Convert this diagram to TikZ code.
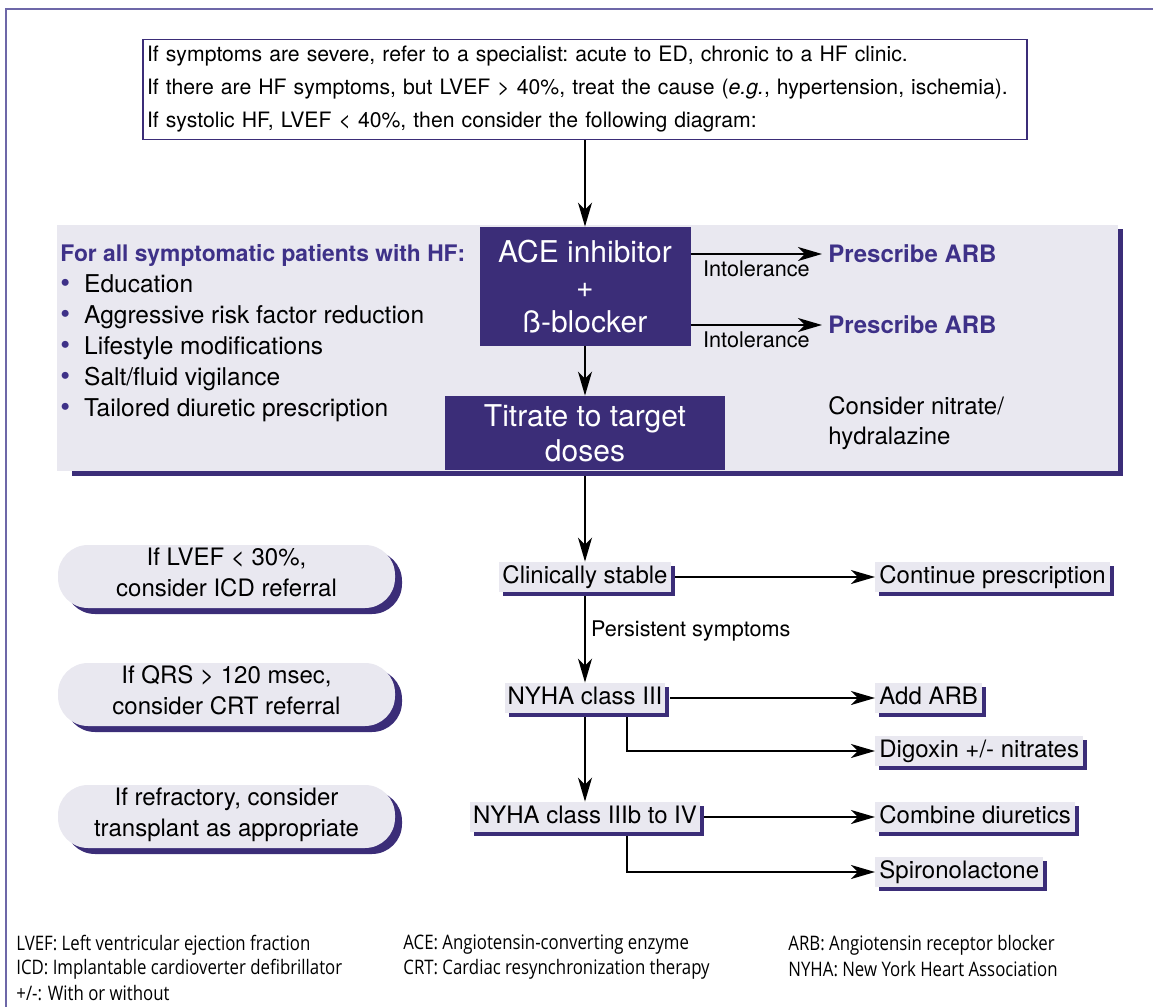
\documentclass[tikz,border=0pt]{standalone}
\usepackage{fontspec}
\setmainfont{TeX Gyre Heros}
\newfontfamily\notefont[FakeStretch=0.84]{Open Sans}
\usepackage{xcolor}
\usetikzlibrary{arrows, arrows.meta, shadows}

\definecolor{hfdark}{HTML}{3B2D78}
\definecolor{hfpurple}{HTML}{3E3188}
\definecolor{boxgrey}{HTML}{E9E8F0}
\definecolor{framelilac}{HTML}{6D67A8}

\newcommand{\hfitem}[1]{\textcolor{hfpurple}{\fontsize{14}{14}\selectfont\textbullet}\hspace{7pt}#1}

\tikzset{
  flow/.style={->, line width=1.1pt},
  note/.style={font=\fontsize{10.8}{13}\selectfont, inner sep=1pt},
  introbox/.style={draw=hfdark, line width=0.7pt, text width=438pt, inner xsep=2pt,
    minimum height=50pt, align=left, font=\fontsize{10.6}{16.5}\selectfont\frenchspacing},
  drugbox/.style={fill=hfdark, text=white, align=center, inner sep=0pt,
    font=\fontsize{15}{17.5}\selectfont},
  arbtext/.style={anchor=west, inner xsep=3pt, text=hfpurple,
    font=\fontsize{12}{14}\selectfont\bfseries},
  flowbox/.style={fill=boxgrey, inner xsep=1.5pt, inner ysep=1.5pt, text height=9pt,
    text depth=3pt, font=\fontsize{12}{14}\selectfont,
    general shadow={fill=hfdark, shadow xshift=2pt, shadow yshift=-2pt}},
  outbox/.style={flowbox, anchor=west, inner xsep=2pt},
  pill/.style={fill=boxgrey, rounded corners=15pt, minimum width=168.5pt, minimum height=31.5pt,
    inner ysep=0pt, align=center, font=\fontsize{12}{15.5}\selectfont,
    execute at end node={\rule[-4.5pt]{0pt}{4.5pt}},
    general shadow={fill=hfdark, shadow xshift=3.5pt, shadow yshift=-3pt}},
  footnote/.style={anchor=west, inner sep=0pt, font=\notefont\fontsize{10}{12}\selectfont}
}

\begin{document}
\begin{tikzpicture}[x=0.5pt, y=-0.5pt, >={Stealth[length=12pt, width=7pt, inset=3.5pt]}]
\useasboundingbox (0,0) rectangle (1153,1007);

%frame
\draw[framelilac, line width=1pt] (6,1007) -- (6,9) -- (1153,9);

%intro
\node[introbox] (intro) at (585,89.5) {\mbox{If symptoms are severe, refer to a specialist: acute to ED, chronic to a HF clinic.}\\
\mbox{If there are HF symptoms, but LVEF > 40\%, treat the cause (\textit{e.g.}, hypertension, ischemia).}\\
\mbox{If systolic HF, LVEF < 40\%, then consider the following diagram:}};

%band
\fill[hfdark] (72,229) rectangle (1123,476);
\fill[boxgrey] (57,225) rectangle (1118,471);

\node[anchor=west, align=left, inner sep=0pt, font=\fontsize{12.25}{15.5}\selectfont] (care) at (60,333) {%
{\color{hfpurple}\bfseries\fontsize{11.4}{15.5}\selectfont For all symptomatic patients with HF:}\\
\hfitem{Education}\\
\hfitem{Aggressive risk factor reduction}\\
\hfitem{Lifestyle modifications}\\
\hfitem{Salt/fluid vigilance}\\
\hfitem{Tailored diuretic prescription}};

\node[drugbox, minimum width=105.5pt, minimum height=59.5pt] (ace) at (585,286.5) {ACE inhibitor\\+\\ß-blocker};
\node[drugbox, minimum width=140pt, minimum height=37pt] (titrate) at (585,433) {Titrate to target\\doses};

\node[arbtext] (arb1) at (822,254) {Prescribe ARB};
\node[arbtext] (arb2) at (822,325) {Prescribe ARB};
\node[anchor=west, align=left, inner sep=0pt, font=\fontsize{12}{15}\selectfont] (nitrate) at (828,423) {Consider nitrate/\\hydralazine};

%flow
\node[flowbox] (stable) at (585,577) {Clinically stable};
\node[flowbox] (nyha3) at (585,698) {NYHA class III};
\node[flowbox] (nyha4) at (585,817) {NYHA class IIIb to IV};

\node[outbox] (cont) at (875,577) {Continue prescription};
\node[outbox] (addarb) at (875,698) {Add ARB};
\node[outbox] (digoxin) at (875,751) {Digoxin +/- nitrates};
\node[outbox] (combine) at (875,817) {Combine diuretics};
\node[outbox] (spiro) at (875,872) {Spironolactone};

%referrals
\node[pill] (icd) at (226.5,576.5) {If LVEF < 30\%,\\consider ICD referral};
\node[pill] (crt) at (226.5,694.5) {If QRS > 120 msec,\\consider CRT referral};
\node[pill] (transplant) at (226.5,816.5) {If refractory, consider\\transplant as appropriate};

%arrows
\draw[flow] (intro.south) -- (ace.north);
\draw[flow] (ace.east |- arb1) -- (arb1.west) node[note, midway, below=2pt] {Intolerance};
\draw[flow] (ace.east |- arb2) -- (arb2.west) node[note, midway, below=2pt] {Intolerance};
\draw[flow] (ace.south) -- (titrate.north);
\draw[flow] ([yshift=-3pt]titrate.south) -- (stable.north);
\draw[flow] ([xshift=2pt]stable.east) -- (cont.west);
\draw[flow] ([yshift=-2pt]stable.south) -- (nyha3.north) node[note, pos=0.4, right=1.5pt] {Persistent symptoms};
\draw[flow] ([xshift=2pt]nyha3.east) -- (addarb.west);
\draw[flow] ([xshift=21pt, yshift=-2pt]nyha3.south) |- (digoxin.west);
\draw[flow] ([yshift=-2pt]nyha3.south) -- (nyha4.north);
\draw[flow] ([xshift=2pt]nyha4.east) -- (combine.west);
\draw[flow] ([xshift=21pt, yshift=-2pt]nyha4.south) |- (spiro.west);

%abbreviations
\node[footnote] (lvef) at (16,945) {LVEF: Left ventricular ejection fraction};
\node[footnote] (icdnote) at (16,969) {ICD: Implantable cardioverter defibrillator};
\node[footnote] (withnote) at (16,993) {+/-: With or without};
\node[footnote] (acenote) at (403,945) {ACE: Angiotensin-converting enzyme};
\node[footnote] (crtnote) at (403,969) {CRT: Cardiac resynchronization therapy};
\node[footnote] (arbnote) at (788,945) {ARB: Angiotensin receptor blocker};
\node[footnote] (nyhanote) at (788,969) {NYHA: New York Heart Association};

\end{tikzpicture}
\end{document}
